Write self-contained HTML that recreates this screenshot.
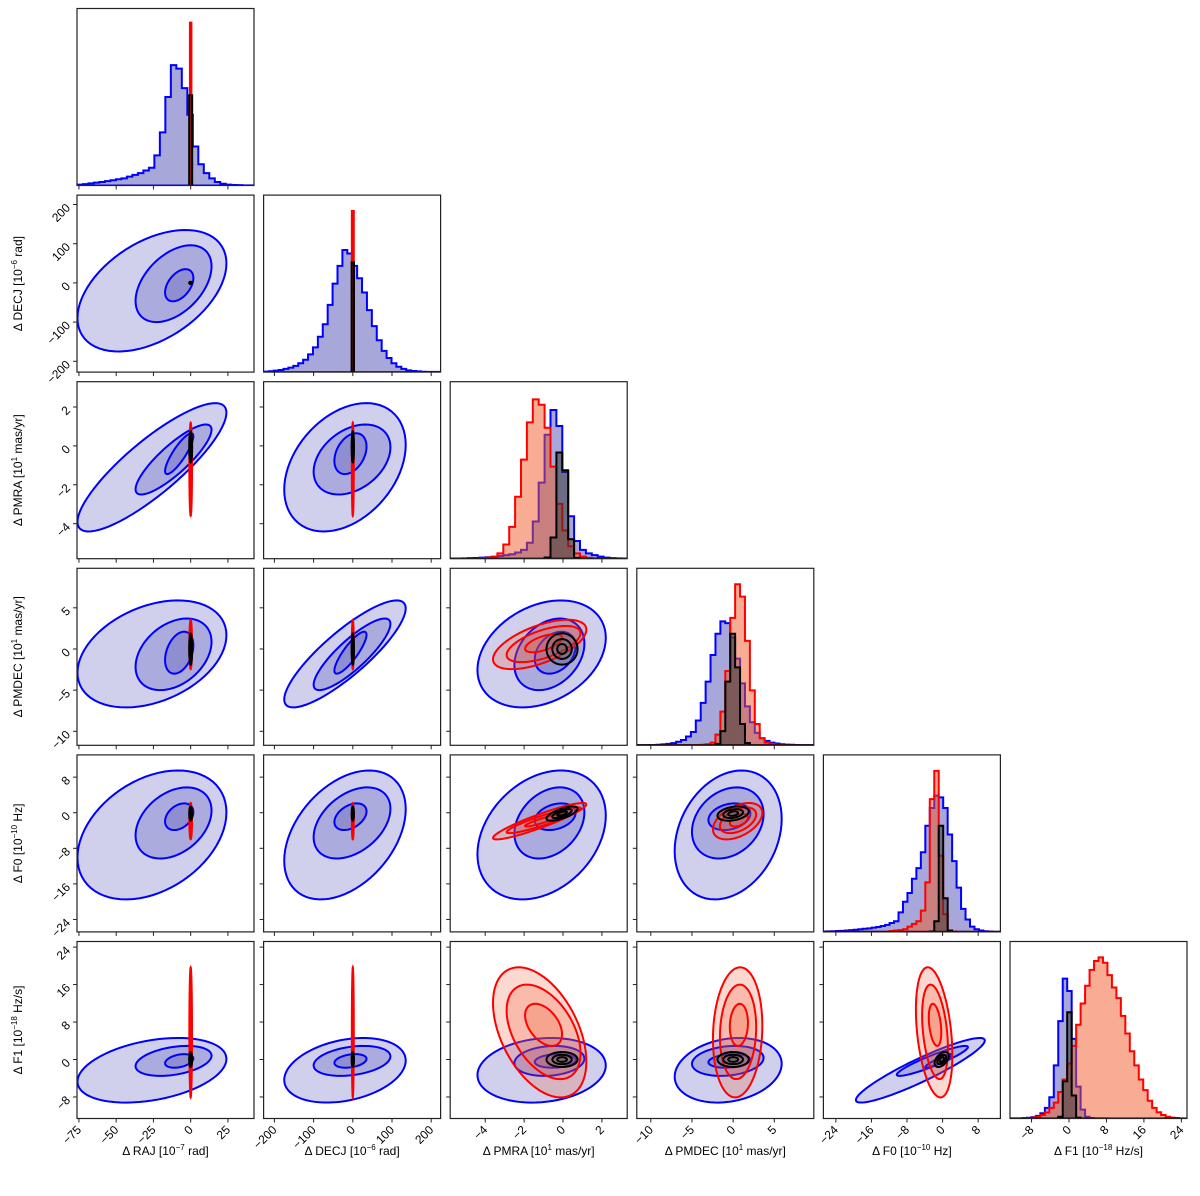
<!DOCTYPE html>
<html><head><meta charset="utf-8">
<style>
html,body{margin:0;padding:0;background:#fff;}
svg{display:block;font-family:"Liberation Sans","DejaVu Sans",sans-serif;}
</style></head>
<body>
<svg id="chart" width="1200" height="1196" viewBox="0 0 1200 1196" xmlns="http://www.w3.org/2000/svg"></svg>
<script>
// ---------------- data ----------------
const paramNames = ['RAJ','DECJ','PMRA','PMDEC','F0','F1'];
const paramExp = ['−7','−6','1','1','−10','−18'];
const paramUnit = ['rad','rad','mas/yr','mas/yr','Hz','Hz/s'];
const paramLo = [-76.3,-227.6,-5.8,-11.7,-26.8,-12.6];
const paramHi = [42.5,224,3.3,9.8,13.0,25.2];
const tickVals = [[-75,-50,-25,0,25],[-200,-100,0,100,200],[-4,-2,0,2],[-10,-5,0,5],[-24,-16,-8,0,8],[-8,0,8,16,24]];

// histograms: bin range + normalised counts
const blueHistLo = [-76,-227,-5.8,-11.7,-27,-12.8];
const blueHistHi = [42,224,3.3,9.8,13.2,25.4];
const blueHist0 = [0.005,0.008,0.012,0.016,0.02,0.025,0.03,0.035,0.04,0.05,0.06,0.07,0.085,0.1,0.17,0.3,0.5,0.68,0.66,0.55,0.4,0.22,0.12,0.07,0.04,0.02,0.01,0.005,0.003,0.002,0.001,0.001];
const blueHist1 = [0.003,0.005,0.008,0.012,0.018,0.025,0.035,0.05,0.07,0.1,0.14,0.2,0.27,0.38,0.5,0.6,0.69,0.67,0.6,0.53,0.45,0.35,0.26,0.18,0.12,0.08,0.05,0.03,0.018,0.01,0.006,0.004,0.002,0.001,0.001,0.001];
const blueHist2 = [0.001,0.001,0.002,0.003,0.004,0.006,0.008,0.01,0.015,0.02,0.025,0.035,0.05,0.09,0.21,0.43,0.7,0.84,0.75,0.49,0.24,0.1,0.05,0.03,0.02,0.012,0.006,0.003,0.002,0.001];
const blueHist3 = [0.001,0.001,0.002,0.002,0.003,0.005,0.008,0.012,0.02,0.03,0.05,0.075,0.14,0.24,0.36,0.51,0.63,0.7,0.69,0.61,0.49,0.35,0.22,0.13,0.07,0.04,0.025,0.015,0.01,0.006,0.004,0.003,0.002,0.001,0.001,0.001];
const blueHist4 = [0.002,0.003,0.004,0.005,0.006,0.008,0.01,0.012,0.015,0.018,0.02,0.024,0.028,0.033,0.04,0.05,0.06,0.11,0.17,0.22,0.3,0.36,0.45,0.6,0.7,0.77,0.76,0.7,0.55,0.4,0.25,0.13,0.07,0.03,0.015,0.008,0.004,0.002,0.001,0.001];
const blueHist5 = [0.001,0.001,0.001,0.002,0.004,0.008,0.015,0.03,0.06,0.12,0.3,0.55,0.79,0.72,0.45,0.18,0.05,0.01,0.003,0.001,0.001,0.001,0,0,0,0,0,0,0,0,0,0,0,0,0,0,0,0,0,0];

const redHistLo = [-0.5,-2.5,-5.8,-11.7,-27,-12.8];
const redHistHi = [0.5,2.5,3.3,9.8,13.2,25.4];
const redHist0 = [0.92];
const redHist1 = [0.91];
const redHist2 = [0,0,0,0,0,0.003,0.006,0.012,0.03,0.08,0.18,0.35,0.56,0.77,0.9,0.87,0.74,0.52,0.31,0.16,0.07,0.03,0.012,0.005,0.002,0.001,0,0,0,0];
const redHist3 = [0,0,0,0,0,0,0,0,0,0,0,0,0.002,0.003,0.006,0.015,0.06,0.19,0.42,0.72,0.91,0.84,0.59,0.31,0.12,0.04,0.015,0.008,0.003,0.001,0,0,0,0,0,0];
const redHist4 = [0,0,0,0,0,0,0,0,0,0,0,0,0,0,0,0.005,0.008,0.01,0.015,0.03,0.045,0.06,0.12,0.28,0.75,0.91,0.43,0.1,0.01,0.002,0,0,0,0,0,0,0,0,0,0];
const redHist5 = [0,0,0,0.001,0.003,0.005,0.01,0.02,0.034,0.06,0.09,0.15,0.22,0.31,0.41,0.53,0.65,0.75,0.84,0.89,0.91,0.88,0.81,0.74,0.68,0.58,0.48,0.38,0.3,0.22,0.16,0.1,0.06,0.035,0.02,0.01,0.005,0.003,0.001,0];

const blackHistLo = [-1,-3,-5.8,-11.7,-27,-12.8];
const blackHistHi = [1,3,3.3,9.8,13.2,25.4];
const blackHist0 = [0.51];
const blackHist1 = [0.62];
const blackHist2 = [0,0,0,0,0,0,0,0,0,0,0,0,0,0,0,0,0.007,0.12,0.6,0.5,0.11,0.005,0,0,0,0,0,0,0,0];
const blackHist3 = [0,0,0,0,0,0,0,0,0,0,0,0,0,0,0,0,0.008,0.08,0.36,0.63,0.44,0.12,0.013,0,0,0,0,0,0,0,0,0,0,0,0,0];
const blackHist4 = [0,0,0,0,0,0,0,0,0,0,0,0,0,0,0,0,0,0,0,0,0,0,0,0,0.002,0.06,0.6,0.19,0.005,0,0,0,0,0,0,0,0,0,0,0];
const blackHist5 = [0,0,0,0,0,0,0,0,0,0,0,0.01,0.21,0.6,0.13,0.005,0,0,0,0,0,0,0,0,0,0,0,0,0,0,0,0,0,0,0,0,0,0,0,0];

// 2-D contour levels (outer, middle, inner): centres and half-widths per parameter
const blueCenter = [[-26,-11.5,-7.7],[-20,-2,-6],[-1.1,-0.7,-0.4],[-0.6,-0.65,-0.45],[-5,-2.3,-0.9],[-2.3,-0.3,-0.3]];
const blueHW = [[50,25.5,9.5],[155,98,41],[3.3,1.8,1.05],[6.5,4.35,2.55],[14.5,8,3],[6.9,3.2,1.45]];
const redCenter = [[0,0,0],[0,0,0],[-1.2,-1.0,-1.0],[0.55,0.6,0.7],[-1.9,-1.7,-1.7],[5.8,5.9,7.4]];
const redHW = [[0.9,0.6,0.35],[2.5,1.8,1],[2.4,1.9,0.95],[3,2.2,1.1],[4.1,2.9,1.4],[13.9,10.1,4.5]];
const blackCenter = [[0,0,0],[0,0,0],[-0.05,-0.05,-0.05],[0,0,0],[-0.2,-0.2,-0.2],[0,0,0]];
const blackHW = [[1,0.6,0.3],[3,2,1],[0.8,0.5,0.25],[1.9,1.2,0.6],[1.6,1.0,0.5],[1.6,1.0,0.5]];
// correlations, pair order (0,1)(0,2)(0,3)(0,4)(0,5)(1,2)(1,3)(1,4)(1,5)(2,3)(2,4)(2,5)(3,4)(3,5)(4,5)
const blueCorr = [0.45,0.85,0.35,0.35,0.35,0.35,0.85,0.4,0.3,0.3,0.3,0.15,0.25,0.2,0.92];
const redCorr = [0,0,0,0,0,0,0,0,0,0.6,0.92,-0.45,0.45,0.1,-0.35];
const blackCorr = [0,0,0,0,0,0,0,0,0,0,0.7,0,0.3,0,0.5];

// ---------------- drawing ----------------
const NS = 'http://www.w3.org/2000/svg';
const svg = document.getElementById('chart');
const S = 177, PITCH = 186.6, X0 = 77, Y0 = 8.5;
function px(c){ return X0 + PITCH*c; }
function py(r){ return Y0 + PITCH*r; }
function sx(c,v){ return px(c) + (v-paramLo[c])/(paramHi[c]-paramLo[c])*S; }
function sy(r,v){ return py(r) + S - (v-paramLo[r])/(paramHi[r]-paramLo[r])*S; }
function hy(r,v){ return py(r) + S - v*S; }
function mk(tag, attrs, parent){
  const e = document.createElementNS(NS, tag);
  for (const k in attrs) e.setAttribute(k, attrs[k]);
  (parent||svg).appendChild(e);
  return e;
}
function pairIndex(i,j){ let k=0; for(let a=0;a<6;a++) for(let b=a+1;b<6;b++){ if(a===i&&b===j) return k; k++; } return -1; }

const defs = mk('defs',{});
const blueHists = [blueHist0,blueHist1,blueHist2,blueHist3,blueHist4,blueHist5];
const redHists = [redHist0,redHist1,redHist2,redHist3,redHist4,redHist5];
const blackHists = [blackHist0,blackHist1,blackHist2,blackHist3,blackHist4,blackHist5];

function histPath(d, counts, lo, hi){
  const w = (hi-lo)/counts.length;
  let p = 'M'+sx(d,lo).toFixed(2)+','+hy(d,0).toFixed(2);
  counts.forEach((v,i)=>{
    const xa = sx(d, lo+i*w), xb = sx(d, lo+(i+1)*w), yy = hy(d, v);
    p += ' L'+xa.toFixed(2)+','+yy.toFixed(2)+' L'+xb.toFixed(2)+','+yy.toFixed(2);
  });
  p += ' L'+sx(d,hi).toFixed(2)+','+hy(d,0).toFixed(2)+' Z';
  return p;
}
function ellPath(ci, rj, cx, cy, a, b, rho){
  const n = 72, q = Math.sqrt(Math.max(0,1-rho*rho));
  let p = '';
  for (let k=0;k<=n;k++){
    const t = 2*Math.PI*k/n;
    const xv = cx + a*Math.cos(t);
    const yv = cy + b*(rho*Math.cos(t) + q*Math.sin(t));
    p += (k?' L':'M') + sx(ci,xv).toFixed(2)+','+sy(rj,yv).toFixed(2);
  }
  return p+' Z';
}

for (let r=0;r<6;r++){
  for (let c=0;c<=r;c++){
    const g = mk('g',{});
    
    
    const cid = 'clip'+r+'_'+c;
    const cp = mk('clipPath',{id:cid}, defs);
    mk('rect',{x:px(c),y:py(r),width:S,height:S}, cp);
    const inner = mk('g',{'clip-path':'url(#'+cid+')'}, g);
    if (c===r){
      const series = [
        [blueHists[c], blueHistLo[c], blueHistHi[c], 'rgba(60,60,170,0.45)', '#0000ff', 'hist-blue'],
        [redHists[c], redHistLo[c], redHistHi[c], 'rgba(240,90,40,0.5)', '#ff0000', 'hist-red'],
        [blackHists[c], blackHistLo[c], blackHistHi[c], 'rgba(50,50,50,0.5)', '#000000', 'hist-black']
      ];
      series.forEach(s=>{
        const e = mk('path',{d:histPath(c,s[0],s[1],s[2]), fill:s[3], stroke:s[4], 'stroke-width':2, 'stroke-linejoin':'miter'}, inner);
        
        
      });
    } else {
      const k = pairIndex(c,r);
      const series = [
        [blueCenter, blueHW, blueCorr[k], 'rgba(40,40,170,0.22)', '#0000ff', 'contour-blue'],
        [redCenter, redHW, redCorr[k], 'rgba(240,80,40,0.22)', '#ff0000', 'contour-red'],
        [blackCenter, blackHW, blackCorr[k], 'rgba(90,90,90,0.25)', '#000000', 'contour-black']
      ];
      series.forEach(s=>{
        for (let l=0;l<3;l++){
          const e = mk('path',{d:ellPath(c,r,s[0][c][l],s[0][r][l],s[1][c][l],s[1][r][l],s[2]), fill:s[3], stroke:s[4], 'stroke-width':2}, inner);
          
          
        }
      });
    }
    const frame = mk('rect',{x:px(c),y:py(r),width:S,height:S,fill:'none',stroke:'#222','stroke-width':1.2}, g);
    
    
    // bottom ticks
    tickVals[c].forEach(v=>{
      const x = sx(c,v);
      mk('line',{x1:x,x2:x,y1:py(r)+S,y2:py(r)+S+4,stroke:'#222','stroke-width':1}, g);
      if (r===5){
        const t = mk('text',{x:x+3,y:py(r)+S+12,'font-size':12,'text-anchor':'end',transform:'rotate(-45 '+(x+3)+' '+(py(r)+S+12)+')'}, g);
        t.textContent = String(v).replace('-','−');
        
        
      }
    });
    if (c!==r){
      tickVals[r].forEach(v=>{
        const y = sy(r,v);
        mk('line',{x1:px(c)-4,x2:px(c),y1:y,y2:y,stroke:'#222','stroke-width':1}, g);
        if (c===0){
          const t = mk('text',{x:px(c)-6,y:y+4,'font-size':12,'text-anchor':'end',transform:'rotate(-45 '+(px(c)-6)+' '+(y+4)+')'}, g);
          t.textContent = String(v).replace('-','−');
          
          
        }
      });
    }
  }
}
// axis titles
function title(i, x, y, rot, nameStr){
  const t = mk('text',{x:x,y:y,'font-size':12,'text-anchor':'middle'});
  if (rot) t.setAttribute('transform','rotate(-90 '+x+' '+y+')');
  
  
  const a = mk('tspan',{}, t); a.textContent = 'Δ '+paramNames[i]+' [10';
  const b = mk('tspan',{'font-size':8,dy:-5}, t); b.textContent = paramExp[i];
  const d = mk('tspan',{dy:5}, t); d.textContent = ' '+paramUnit[i]+']';
}
for (let i=0;i<6;i++){
  title(i, px(i)+S/2, 1155, false, 'x-axis-title-'+paramNames[i].toLowerCase());
  if (i>0) title(i, 22, py(i)+S/2, true, 'y-axis-title-'+paramNames[i].toLowerCase());
}
</script>
</body></html>
